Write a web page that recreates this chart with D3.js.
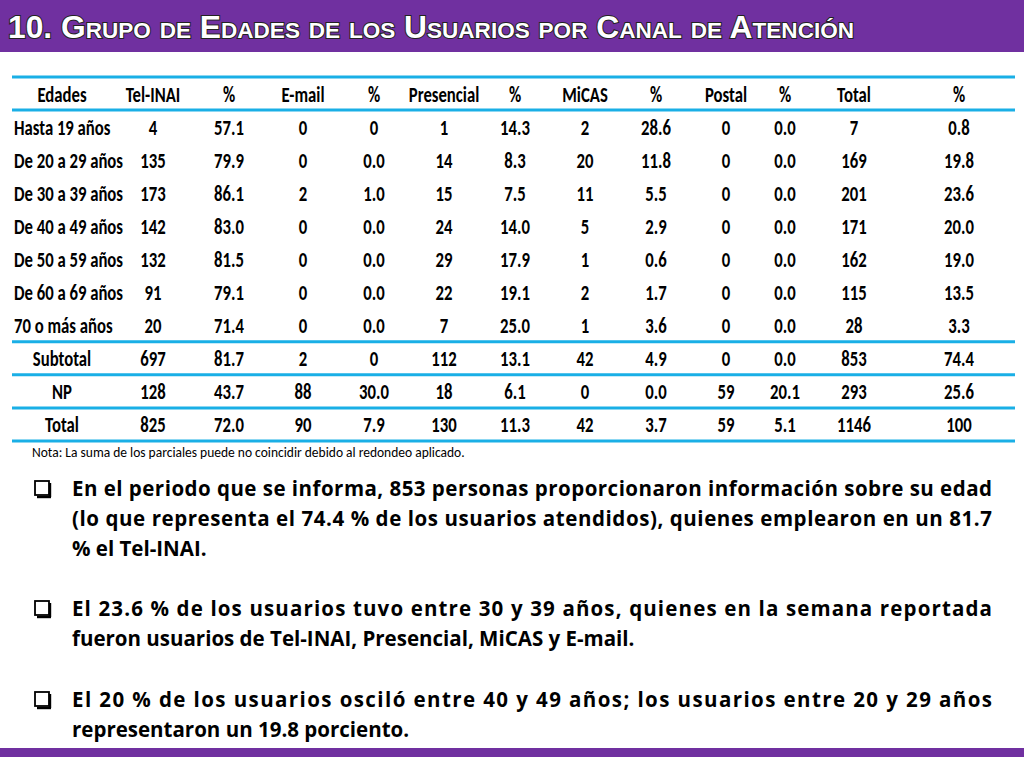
<!DOCTYPE html>
<html><head><meta charset="utf-8">
<script src="https://cdn.jsdelivr.net/npm/d3@7"></script>
<style>body{margin:0;background:#fff}</style></head>
<body><div id="slide"></div>
<script>
// Table data
const headers = ['Edades','Tel-INAI','%','E-mail','%','Presencial','%','MiCAS','%','Postal','%','Total','%'];
const ageGroups = ['Hasta 19 años','De 20 a 29 años','De 30 a 39 años','De 40 a 49 años','De 50 a 59 años','De 60 a 69 años','70 o más años','Subtotal','NP','Total'];
const telInai = ['4','57.1','135','79.9','173','86.1','142','83.0','132','81.5','91','79.1','20','71.4','697','81.7','128','43.7','825','72.0'];
const email = ['0','0','0','0.0','2','1.0','0','0.0','0','0.0','0','0.0','0','0.0','2','0','88','30.0','90','7.9'];
const presencial = ['1','14.3','14','8.3','15','7.5','24','14.0','29','17.9','22','19.1','7','25.0','112','13.1','18','6.1','130','11.3'];
const micas = ['2','28.6','20','11.8','11','5.5','5','2.9','1','0.6','2','1.7','1','3.6','42','4.9','0','0.0','42','3.7'];
const postal = ['0','0.0','0','0.0','0','0.0','0','0.0','0','0.0','0','0.0','0','0.0','0','0.0','59','20.1','59','5.1'];
const total = ['7','0.8','169','19.8','201','23.6','171','20.0','162','19.0','115','13.5','28','3.3','853','74.4','293','25.6','1146','100'];
const colCenters = [62,153,229,303,374,444,515,585,656,726,785,854,959];
const bullets = [
  ['En el periodo que se informa, 853 personas proporcionaron información sobre su edad','(lo que representa el 74.4 % de los usuarios atendidos), quienes emplearon en un 81.7','% el Tel-INAI.'],
  ['El 23.6 % de los usuarios tuvo entre 30 y 39 años, quienes en la semana reportada','fueron usuarios de Tel-INAI, Presencial, MiCAS y E-mail.'],
  ['El 20 % de los usuarios osciló entre 40 y 49 años; los usuarios entre 20 y 29 años','representaron un 19.8 porciento.']
];
const bulletTops = [496,616,707];

function cell(g, x, y, txt, anchor) {
  g.append('text').attr('transform',`translate(${x},${y}) scale(0.76,1)`)
    .attr('text-anchor',anchor).text(txt);
}

function drawSlide() {
  const svg = d3.select('#slide').append('svg').attr('width',1024).attr('height',768);
  svg.append('rect').attr('width',1024).attr('height',52).attr('fill','#7030A0');
  svg.append('rect').attr('y',748).attr('width',1024).attr('height',9).attr('fill','#7030A0');
  svg.append('text').attr('x',8).attr('y',38)
    .attr('font-family','Liberation Sans, Arial').attr('font-weight','bold').attr('font-size',31)
    .attr('font-variant','small-caps').attr('fill','#fff').attr('stroke','#222').attr('stroke-width',2)
    .attr('paint-order','stroke').attr('textLength',846).attr('lengthAdjust','spacingAndGlyphs')
    .text('10. Grupo de  Edades de los Usuarios por Canal de Atención');

  const y = d3.scaleBand().domain(['h'].concat(ageGroups)).range([77,441]);
  const cols = [telInai,email,presencial,micas,postal,total];
  const t = svg.append('g').attr('font-family','Carlito, sans-serif').attr('font-size',22)
    .attr('font-weight','bold').attr('fill','#000');
  headers.forEach((h,i)=>cell(t, colCenters[i], y('h')+y.bandwidth()/2+8, h, 'middle'));
  ageGroups.forEach((g,r)=>{
    const yy = y(g)+y.bandwidth()/2+8;
    const left = r<7;
    cell(t, left?14:colCenters[0], yy, g, left?'start':'middle');
    const vals = [];
    cols.forEach(c=>{vals.push(c[r*2],c[r*2+1]);});
    vals.forEach((v,i)=>cell(t, colCenters[i+1], yy, v, 'middle'));
  });
  const lines = [77,y(ageGroups[0]),y('Subtotal'),y('NP'),y('Total'),441];
  svg.selectAll('line.b').data(lines).enter().append('line')
    .attr('x1',12).attr('x2',1015).attr('y1',d=>d).attr('y2',d=>d)
    .attr('stroke','#1AAFE6').attr('stroke-width',3);
  svg.append('text').attr('x',32).attr('y',457).attr('font-family','Carlito, sans-serif')
    .attr('font-size',13.5).text('Nota: La suma de los parciales puede no coincidir debido al redondeo aplicado.');

  bullets.forEach((b,i)=>{
    const top = bulletTops[i];
    svg.append('rect').attr('x',35).attr('y',top-15).attr('width',14).attr('height',14)
      .attr('fill','none').attr('stroke','#000').attr('stroke-width',1.8);
    svg.append('line').attr('x1',50).attr('x2',50).attr('y1',top-13).attr('y2',top+1).attr('stroke','#000').attr('stroke-width',2.4);
    svg.append('line').attr('x1',37).attr('x2',51).attr('y1',top+1).attr('y2',top+1).attr('stroke','#000').attr('stroke-width',2.4);
    b.forEach((ln,j)=>{
      const tx = svg.append('text').attr('x',72).attr('y',top+j*30)
        .attr('font-family','Open Sans, sans-serif').attr('font-weight','bold').attr('font-size',20.5)
        .text(ln);
      if (j < b.length-1) tx.attr('textLength',920).attr('lengthAdjust','spacing');
    });
  });
}
drawSlide();
</script></body></html>
